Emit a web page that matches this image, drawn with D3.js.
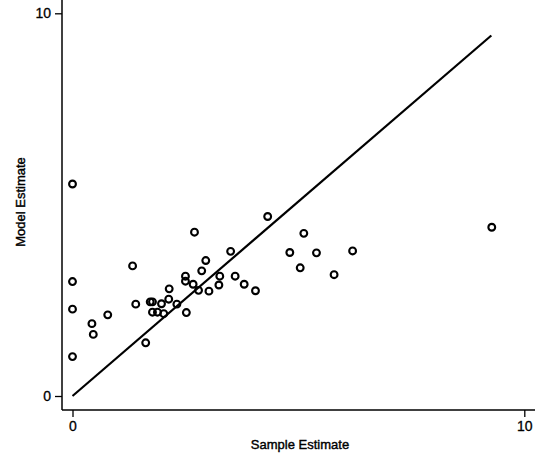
<!DOCTYPE html>
<html>
<head>
<meta charset="utf-8">
<script src="https://cdn.jsdelivr.net/npm/d3@7"></script>
<style>
  body { margin: 0; background: #fff; }
  text { font-family: "Liberation Sans", Arial, sans-serif; fill: #000; }
</style>
</head>
<body>
<div id="chart"></div>
<script>
const sampleEst = [0, 0, 0, 0, 0.43, 0.46, 0.78, 1.33, 1.40, 1.62, 1.72, 1.77, 1.77, 1.88, 1.97, 2.02,
  2.14, 2.13, 2.31, 2.50, 2.50, 2.52, 2.67, 2.70, 2.79, 2.86, 2.95, 3.02, 3.24, 3.26, 3.50, 3.60,
  3.80, 4.05, 4.32, 4.81, 5.04, 5.12, 5.40, 5.79, 6.20, 9.28];
const modelEst = [5.54, 2.99, 2.27, 1.03, 1.89, 1.61, 2.12, 3.40, 2.40, 1.39, 2.46, 2.46, 2.19, 2.19, 2.41, 2.15,
  2.80, 2.53, 2.40, 3.13, 3.00, 2.18, 2.92, 4.28, 2.76, 3.27, 3.54, 2.74, 2.90, 3.13, 3.78, 3.13,
  2.92, 2.75, 4.69, 3.75, 3.35, 4.25, 3.74, 3.17, 3.79, 4.41];
const lineX = [0, 9.27];
const lineY = [0, 9.42];
const xTicks = [0, 10];
const yTicks = [0, 10];

const W = 547, H = 461;
const axisX = 62, axisY = 410;

const x = d3.scaleLinear().domain([0, 10]).range([72.5, 524.3]);
const y = d3.scaleLinear().domain([0, 10]).range([396, 13.3]);

const svg = d3.select("#chart").append("svg")
  .attr("width", W)
  .attr("height", H);

// axis lines
svg.append("line")
  .attr("x1", axisX).attr("x2", axisX)
  .attr("y1", 0).attr("y2", axisY)
  .attr("stroke", "#000").attr("stroke-width", 1.5);
svg.append("line")
  .attr("x1", axisX).attr("x2", 535)
  .attr("y1", axisY).attr("y2", axisY)
  .attr("stroke", "#000").attr("stroke-width", 1.5);

const yAxis = d3.axisLeft(y).tickValues(yTicks).tickSize(7).tickPadding(4).tickFormat(d3.format("d"));
const xAxis = d3.axisBottom(x).tickValues(xTicks).tickSize(7).tickPadding(4).tickFormat(d3.format("d"));

const gy = svg.append("g")
  .attr("transform", "translate(" + axisX + ",0)")
  .call(yAxis);
const gx = svg.append("g")
  .attr("transform", "translate(0," + axisY + ")")
  .call(xAxis);

[gy, gx].forEach(g => {
  g.select(".domain").remove();
  g.selectAll(".tick line").attr("stroke", "#000").attr("stroke-width", 1.3);
  g.selectAll(".tick text")
    .attr("font-family", "Liberation Sans, Arial, sans-serif")
    .attr("font-size", 14)
    .attr("fill", "#000")
    .attr("stroke", "#000").attr("stroke-width", 0.3);
});

// diagonal line
svg.append("line")
  .attr("x1", x(lineX[0])).attr("y1", y(lineY[0]))
  .attr("x2", x(lineX[1])).attr("y2", y(lineY[1]))
  .attr("stroke", "#000").attr("stroke-width", 2.2);

// points
svg.append("g").selectAll("circle")
  .data(sampleEst.map((d, i) => [d, modelEst[i]]))
  .join("circle")
  .attr("cx", d => x(d[0]))
  .attr("cy", d => y(d[1]))
  .attr("r", 3.4)
  .attr("fill", "none")
  .attr("stroke", "#000")
  .attr("stroke-width", 2.1);

// axis titles
svg.append("text")
  .attr("x", 300).attr("y", 449)
  .attr("text-anchor", "middle")
  .attr("font-size", 13)
  .attr("stroke", "#000").attr("stroke-width", 0.4)
  .text("Sample Estimate");

svg.append("text")
  .attr("transform", "translate(25,202) rotate(-90)")
  .attr("text-anchor", "middle")
  .attr("font-size", 13)
  .attr("stroke", "#000").attr("stroke-width", 0.4)
  .text("Model Estimate");
</script>
</body>
</html>
